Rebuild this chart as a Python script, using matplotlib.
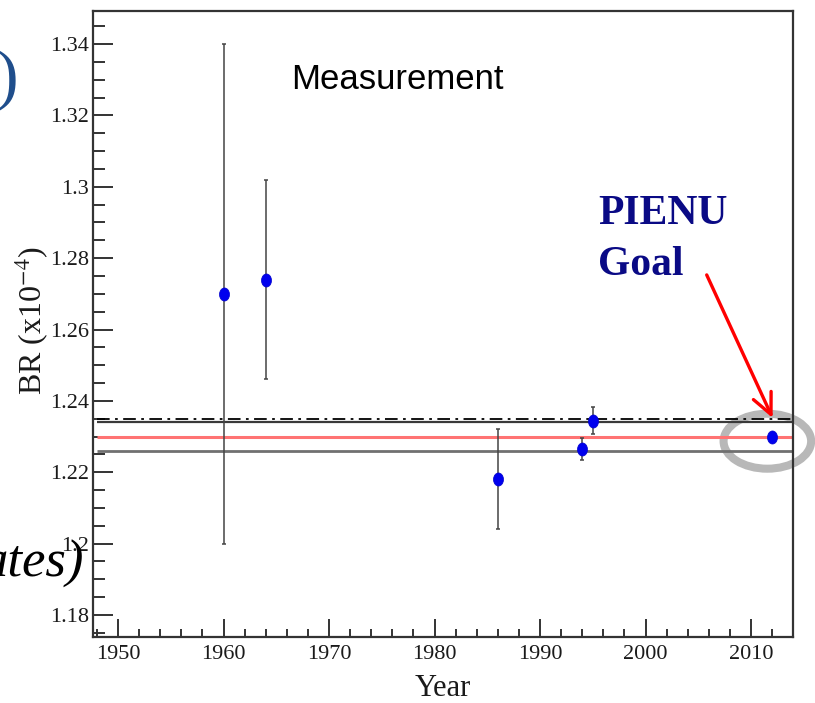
import numpy as np
import matplotlib
matplotlib.use("Agg")
import matplotlib.pyplot as plt
from matplotlib.path import Path
from matplotlib.transforms import Affine2D
from matplotlib.patches import Ellipse
from matplotlib.ticker import MultipleLocator, FuncFormatter

# ---- data ----
years = [1960, 1964, 1986, 1994, 1995]
br = [1.2700, 1.2740, 1.2181, 1.2265, 1.2345]
br_err = [0.070, 0.028, 0.014, 0.0032, 0.0037]
goal_year = 2012
goal_br = 1.2300
goal_err = 0.0005

sm_value = 1.2350          # dash-dot line
avg_value = 1.2300         # red line
avg_upper = 1.2340
avg_lower = 1.2260

plt.rcParams['mathtext.fontset'] = 'stix'
serif = 'Liberation Serif'

fig = plt.figure(figsize=(8.15, 7.03), dpi=100)
ax = fig.add_axes([93/815, 1-637/703, 700/815, 626/703])
ax.set_xlim(1947.63, 2013.98)
ax.set_ylim(1.17384, 1.34925)

edge = '#333333'
for s in ax.spines.values():
    s.set_color(edge)
    s.set_linewidth(1.6)
    s.set_zorder(4)

# horizontal reference lines
ax.hlines(sm_value, 1948, 2014, colors='black', linestyles=(0, (7, 3, 1.5, 3)), lw=1.3, zorder=2)
ax.hlines(avg_upper, 1948, 2014, colors='#3a3a3a', lw=1.6, zorder=2)
ax.hlines(avg_value, 1948, 2014, colors='#ff7373', lw=2.2, zorder=2)
ax.hlines(avg_lower, 1948, 2014, colors='#707070', lw=2.0, zorder=2)

# ellipse marker (vertically stretched dot)
circ = Path.unit_circle()
ell_marker = circ.transformed(Affine2D().scale(1.0, 1.3))

ax.errorbar(years, br, yerr=br_err, fmt='none', ecolor='#444444', elinewidth=1.1,
            capsize=1.6, capthick=1.1, zorder=3)
ax.plot(years, br, linestyle='none', marker=ell_marker, markersize=9.4,
        markerfacecolor='#0000ee', markeredgecolor='#0000cc', markeredgewidth=0.5, zorder=5)
ax.errorbar([goal_year], [goal_br], yerr=[goal_err], fmt='none', ecolor='#444444',
            elinewidth=1.1, zorder=3)
ax.plot([goal_year], [goal_br], linestyle='none', marker=ell_marker, markersize=9.4,
        markerfacecolor='#0000ee', markeredgecolor='#0000cc', markeredgewidth=0.5, zorder=5)

# grey ellipse highlighting the goal
ax.add_patch(Ellipse((goal_year - 0.45, goal_br - 0.0013), 8.3, 0.0154, fill=False,
                     edgecolor='#b8b8b8', lw=5.8, clip_on=False, zorder=1.5))

# red arrow
ax.annotate('', xy=(goal_year + 0.05, goal_br + 0.0052), xytext=(2005.8, 1.2753),
            arrowprops=dict(arrowstyle='->,head_length=0.75,head_width=0.35', color='red',
                            lw=2.4, mutation_scale=20, shrinkA=0, shrinkB=0),
            zorder=6)

ax.text(1995.5, 1.2896, 'PIENU', family=serif, fontweight='bold', fontsize=30,
        color='#0a0a85', ha='left', va='baseline')
ax.text(1995.5, 1.2753, 'Goal', family=serif, fontweight='bold', fontsize=30,
        color='#0a0a85', ha='left', va='baseline')

ax.text(1976.45, 1.3274, 'Measurement', family='Liberation Sans', fontsize=25,
        color='black', ha='center', va='baseline')

# ticks
ax.xaxis.set_major_locator(MultipleLocator(10))
ax.xaxis.set_minor_locator(MultipleLocator(2))
ax.yaxis.set_major_locator(MultipleLocator(0.02))
ax.yaxis.set_minor_locator(MultipleLocator(0.005))
ax.yaxis.set_major_formatter(FuncFormatter(lambda v, p: f'{round(v, 4):g}'))
ax.xaxis.set_major_formatter(FuncFormatter(lambda v, p: f'{int(round(v))}'))
ax.tick_params(axis='both', which='both', direction='in', color=edge, width=1.4)
ax.tick_params(axis='y', which='major', length=14.5, pad=3, labelsize=16)
ax.tick_params(axis='y', which='minor', length=8.5)
ax.tick_params(axis='x', which='major', length=13, pad=6, labelsize=16)
ax.tick_params(axis='x', which='minor', length=6)
ax.tick_params(top=False, right=False, which='both')
for lab in ax.get_xticklabels() + ax.get_yticklabels():
    lab.set_family(serif)
    lab.set_color('#1a1a1a')

ax.set_xlabel('Year', family=serif, fontsize=22, color='#1a1a1a')
ax.xaxis.set_label_coords(0.5, -0.083)
ax.xaxis.label.set_va('center')
ax.set_ylabel(r'BR (x10$^{-4}$)', family=serif, fontsize=23, color='#1a1a1a')
ax.yaxis.set_label_coords(-0.087, 0.505)
ax.yaxis.label.set_va('center')

# slide overlay fragments
fig.text(18/815, 1-80/703, ')', family=serif, fontsize=49, color='#1f4e8c',
         ha='right', va='center')
fig.text(84/815, 1-577/703, 'ates)', family=serif, style='italic', fontsize=38,
         color='black', ha='right', va='baseline')

fig.savefig('out.png', dpi=100)
